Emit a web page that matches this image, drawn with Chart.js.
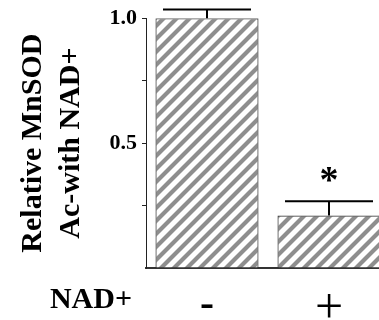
<!DOCTYPE html>
<html>
<head>
<meta charset="utf-8">
<script src="https://cdn.jsdelivr.net/npm/chart.js@4"></script>
<style>
  html, body { margin: 0; padding: 0; background: #fff; overflow: hidden; }
  #wrap { width: 379px; height: 320px; overflow: hidden; }
</style>
</head>
<body>
<div id="wrap"><canvas id="grafico" width="390" height="320"></canvas></div>
<script>
let categorias = ['-', '+'];
let valores    = [1.0, 0.21];
let erros      = [0.035, 0.057];
let marcas     = ['', '*'];
let ticksY     = [0.5, 1.0];
let tituloY    = ['Relative MnSOD', 'Ac-with NAD+'];
let tituloX    = 'NAD+';

let fonte = '"Liberation Serif", "Times New Roman", serif';

// listras diagonais cinzas
let listras = () => {
  let p = 13;
  let c = document.createElement('canvas');
  c.width = p; c.height = p;
  let g = c.getContext('2d');
  g.fillStyle = '#fff';
  g.fillRect(0, 0, p, p);
  g.strokeStyle = '#8e8e8e';
  g.lineWidth = 4.2;
  g.beginPath();
  g.moveTo(0, p); g.lineTo(p, 0);
  g.moveTo(-p / 2, p / 2); g.lineTo(p / 2, -p / 2);
  g.moveTo(p / 2, 3 * p / 2); g.lineTo(3 * p / 2, p / 2);
  g.stroke();
  return g.createPattern(c, 'repeat');
};

let ctx = document.getElementById('grafico').getContext('2d');

let barrasErro = {
  id: 'barrasErro',
  afterDatasetsDraw(chart) {
    let c = chart.ctx;
    let y = chart.scales.y;
    let meta = chart.getDatasetMeta(0);
    c.save();
    meta.data.forEach((bar, i) => {
      let topo = y.getPixelForValue(valores[i] + erros[i]);
      c.strokeStyle = '#000';
      c.lineWidth = 2;
      c.beginPath();
      c.moveTo(bar.x, bar.y);
      c.lineTo(bar.x, topo);
      c.moveTo(bar.x - 44, topo);
      c.lineTo(bar.x + 44, topo);
      c.stroke();
      if (marcas[i]) {
        c.fillStyle = '#000';
        c.font = 'bold 38px ' + fonte;
        c.textAlign = 'center';
        c.textBaseline = 'middle';
        c.fillText(marcas[i], bar.x, topo - 19);
      }
    });
    c.font = 'bold 30px ' + fonte;
    c.fillStyle = '#000';
    c.textAlign = 'center';
    c.textBaseline = 'middle';
    c.fillText(tituloX, 91, 300);
    c.restore();
  }
};

let meuGrafico = new Chart(ctx, {
  type: 'bar',
  data: {
    labels: categorias,
    datasets: [{
      data: valores,
      backgroundColor: listras(),
      borderColor: '#3a3a3a',
      borderWidth: 1.2,
      categoryPercentage: 1,
      barPercentage: 0.845
    }]
  },
  options: {
    responsive: false,
    animation: false,
    layout: { padding: { top: 18, left: 0, right: 0, bottom: 0 } },
    plugins: { legend: { display: false }, tooltip: { enabled: false } },
    scales: {
      x: {
        afterFit: s => { s.height = 52; },
        grid: { drawOnChartArea: false, drawTicks: false },
        border: { display: true, color: '#333', width: 2 },
        ticks: {
          color: '#000',
          padding: 12,
          font: c => c.index === 0
            ? { family: fonte, size: 42, weight: 'bold' }
            : { family: fonte, size: 50, weight: 'normal' }
        }
      },
      y: {
        min: 0,
        max: 1,
        afterFit: s => { s.width = 146; },
        grid: {
          drawOnChartArea: false,
          tickLength: 4,
          color: c => c.tick && c.tick.value === 0 ? 'rgba(0,0,0,0)' : '#222'
        },
        border: { display: true, color: '#222', width: 1 },
        ticks: {
          stepSize: 0.25,
          padding: 5,
          color: '#000',
          font: { family: fonte, size: 22, weight: 'bold' },
          callback: v => ticksY.includes(v) ? v.toFixed(1) : ''
        },
        title: {
          display: true,
          text: tituloY,
          color: '#000',
          padding: { top: 14, bottom: 0 },
          font: { family: fonte, size: 30, weight: 'bold', lineHeight: 1.27 }
        }
      }
    }
  },
  plugins: [barrasErro]
});
</script>
</body>
</html>
